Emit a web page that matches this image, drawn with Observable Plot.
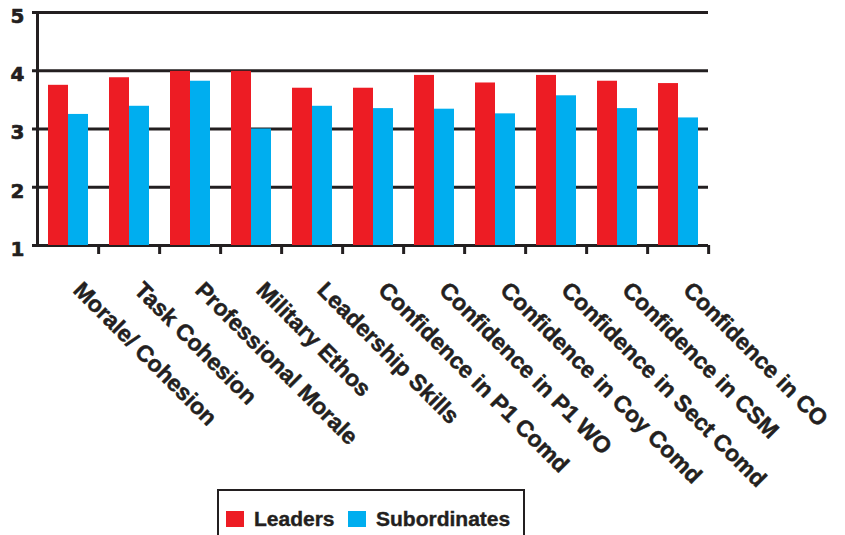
<!DOCTYPE html>
<html>
<head>
<meta charset="utf-8">
<script src="https://cdn.jsdelivr.net/npm/d3@7"></script>
<script src="https://cdn.jsdelivr.net/npm/@observablehq/plot@0.6"></script>
<style>
  html, body { margin: 0; padding: 0; background: #fff; overflow: hidden; }
  #chart { position: relative; width: 845px; height: 535px; font-family: "Liberation Sans", Arial, sans-serif; }
  #chart svg { display: block; }
  .legend {
    position: absolute; left: 217px; top: 489px; width: 304px; height: 52px;
    border: 2px solid #231f20; box-sizing: content-box;
    font-family: "Liberation Sans", Arial, sans-serif; font-weight: bold; font-size: 21px; color: #231f20;
    -webkit-text-stroke: 0.4px #231f20;
  }
  .legend .item { position: absolute; top: 16px; display: flex; align-items: center; }
  .legend .sw { width: 18px; height: 16px; margin-right: 10px; }
</style>
</head>
<body>
<div id="chart"></div>
<script>
// Survey dimensions rated by leaders and their subordinates (mean score, 1–5)
const categories = [
  "Morale/ Cohesion",
  "Task Cohesion",
  "Professional Morale",
  "Military Ethos",
  "Leadership Skills",
  "Confidence in P1 Comd",
  "Confidence in P1 WO",
  "Confidence in Coy Comd",
  "Confidence in Sect Comd",
  "Confidence in CSM",
  "Confidence in CO"
];
const leaders      = [3.75, 3.88, 3.99, 3.99, 3.70, 3.70, 3.92, 3.79, 3.92, 3.82, 3.78];
const subordinates = [3.25, 3.39, 3.82, 3.00, 3.39, 3.35, 3.34, 3.26, 3.57, 3.35, 3.19];
const seriesNames  = ["Leaders", "Subordinates"];
const seriesColors = ["#ed1c24", "#00aeef"];
const yTicks = [1, 2, 3, 4, 5];

const ink = "#231f20";
const W = 845, H = 489;
const margin = {top: 12, right: 136, bottom: 244, left: 35};
const step = (W - margin.left - margin.right) / categories.length;

const rows = categories.flatMap((c, i) => [
  {category: c, series: seriesNames[0], value: leaders[i]},
  {category: c, series: seriesNames[1], value: subordinates[i]}
]);

const chart = Plot.plot({
  width: W,
  height: H,
  marginTop: margin.top,
  marginRight: margin.right,
  marginBottom: margin.bottom,
  marginLeft: margin.left,
  style: {fontFamily: "'Liberation Sans', Arial, sans-serif", fontWeight: "bold", color: ink, background: "#fff", overflow: "visible"},
  fx: {domain: categories, padding: 0, axis: null, label: null},
  x: {domain: seriesNames, paddingInner: 0, paddingOuter: 0.5, axis: null},
  y: {domain: [yTicks[0], yTicks[yTicks.length - 1]], axis: null, label: null},
  color: {domain: seriesNames, range: seriesColors},
  marks: [
    // horizontal gridlines (the one at 1 doubles as the baseline)
    Plot.ruleY(yTicks, {stroke: ink, strokeWidth: 3}),
    Plot.barY(rows, {fx: "category", x: "series", y1: yTicks[0], y2: "value", fill: "series"}),
    // vertical axis line
    Plot.frame({anchor: "left", facetAnchor: "left", stroke: ink, strokeWidth: 3}),
    // y ticks
    Plot.axisY({ticks: yTicks, tickSize: 5, strokeWidth: 3, stroke: ink, tickFormat: () => "", label: null}),
    // y tick labels
    Plot.text(yTicks, {
      y: (d) => d, text: (d) => String(d), facetAnchor: "left",
      frameAnchor: "left", textAnchor: "end", dx: -13, dy: 4,
      fontFamily: "'DejaVu Sans', sans-serif", fontSize: 20, fontWeight: "bold",
      fill: ink, stroke: ink, strokeWidth: 0.6
    }),
    // category separators below the baseline
    Plot.axisFx({anchor: "bottom", tickSize: 9, strokeWidth: 3, stroke: ink, dx: step / 2, tickFormat: () => "", label: null}),
    // rotated category labels
    Plot.text(categories, {
      fx: (d) => d, text: (d) => d,
      frameAnchor: "bottom", rotate: 45, textAnchor: "start", lineAnchor: "bottom",
      dx: 4, dy: 46, fontSize: 23, fontWeight: "bold", fill: ink, stroke: ink, strokeWidth: 0.5
    })
  ]
});

const root = document.getElementById("chart");
root.appendChild(chart);

// legend box below the plot
const legend = document.createElement("div");
legend.className = "legend";
const lefts = [7, 129];
seriesNames.forEach((name, i) => {
  const item = document.createElement("div");
  item.className = "item";
  item.style.left = lefts[i] + "px";
  const sw = document.createElement("span");
  sw.className = "sw";
  sw.style.background = seriesColors[i];
  const label = document.createElement("span");
  label.textContent = name;
  item.appendChild(sw);
  item.appendChild(label);
  legend.appendChild(item);
});
root.appendChild(legend);
</script>
</body>
</html>
